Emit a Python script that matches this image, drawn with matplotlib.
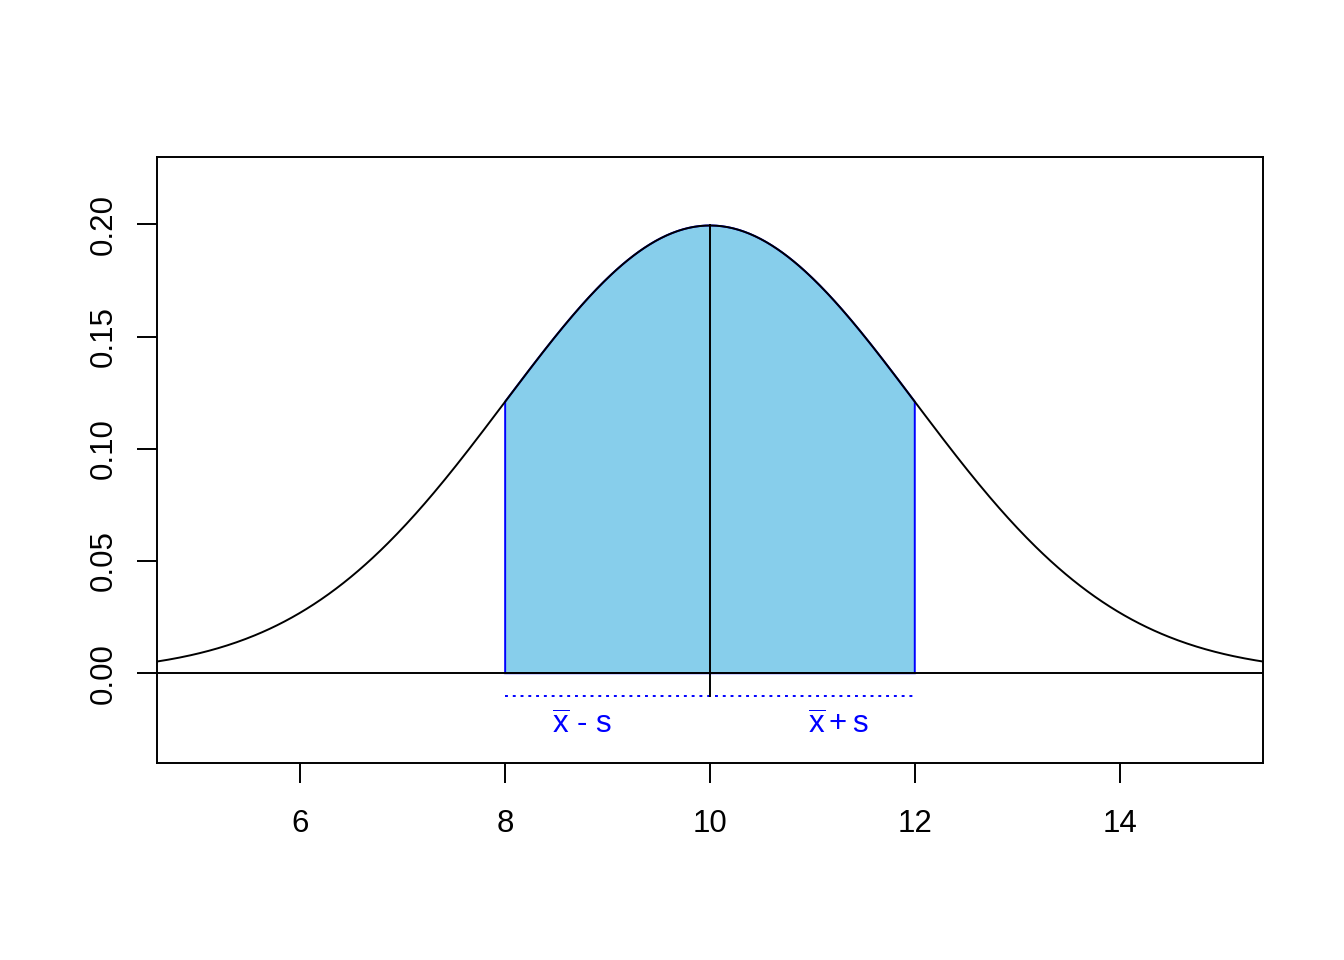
import numpy as np
import matplotlib
matplotlib.use("Agg")
import matplotlib.pyplot as plt

plt.rcParams["font.family"] = ["Liberation Sans", "DejaVu Sans"]
plt.rcParams["mathtext.fontset"] = "custom"
plt.rcParams["mathtext.rm"] = "Liberation Sans"
plt.rcParams["mathtext.it"] = "Liberation Sans"

# chart values
mean = 10.0
sd = 2.0
x_range = (4.6, 15.4)
band = (8.0, 12.0)           # mean - sd, mean + sd
x_ticks = [6, 8, 10, 12, 14]
y_ticks = [0.00, 0.05, 0.10, 0.15, 0.20]
y_ticklabels = ["0.00", "0.05", "0.10", "0.15", "0.20"]
band_labels = [r"$\overline{\mathrm{x}}$ - s", r"$\overline{\mathrm{x}}+\mathrm{s}$"]
label_x = [8.75, 11.25]
label_y = -0.0235
dotted_y = -0.01


def dnorm(x, m, s):
    return np.exp(-0.5 * ((x - m) / s) ** 2) / (s * np.sqrt(2 * np.pi))


lw = 1.4
fs = 22.5
fig = plt.figure(figsize=(13.44, 9.6), dpi=100)
ax = fig.add_axes([0.1168, 0.2052, 0.9397 - 0.1168, 0.8365 - 0.2052])

xs = np.linspace(x_range[0], x_range[1], 600)
ax.plot(xs, dnorm(xs, mean, sd), color="black", lw=lw, zorder=4)

xb = np.linspace(band[0], band[1], 300)
poly_x = np.concatenate([[band[0]], xb, [band[1]]])
poly_y = np.concatenate([[0], dnorm(xb, mean, sd), [0]])
ax.fill(poly_x, poly_y, facecolor="#87CEEB", edgecolor="blue", lw=lw, zorder=2)

ax.axhline(0, color="black", lw=lw, zorder=5)
ax.plot([mean, mean], [dotted_y, dnorm(mean, mean, sd)], color="black", lw=lw, zorder=5)
ax.plot(band, [dotted_y, dotted_y], color="blue", lw=lw, ls=(0, (1.5, 2.5)), zorder=3)

for lx, lab in zip(label_x, band_labels):
    ax.text(lx, label_y, lab, color="blue", fontsize=fs, ha="center", va="center")

ax.set_xlim(*x_range)
ax.set_ylim(-0.04, 0.23)
ax.set_xticks(x_ticks)
ax.set_xticklabels([str(t) for t in x_ticks])
ax.set_yticks(y_ticks)
ax.set_yticklabels(y_ticklabels, rotation=90, va="center")
ax.tick_params(length=14.4, width=lw, labelsize=fs)
ax.tick_params(axis="x", pad=19)
ax.tick_params(axis="y", pad=13)
for sp in ax.spines.values():
    sp.set_linewidth(lw)

fig.savefig("out.png", dpi=100)
